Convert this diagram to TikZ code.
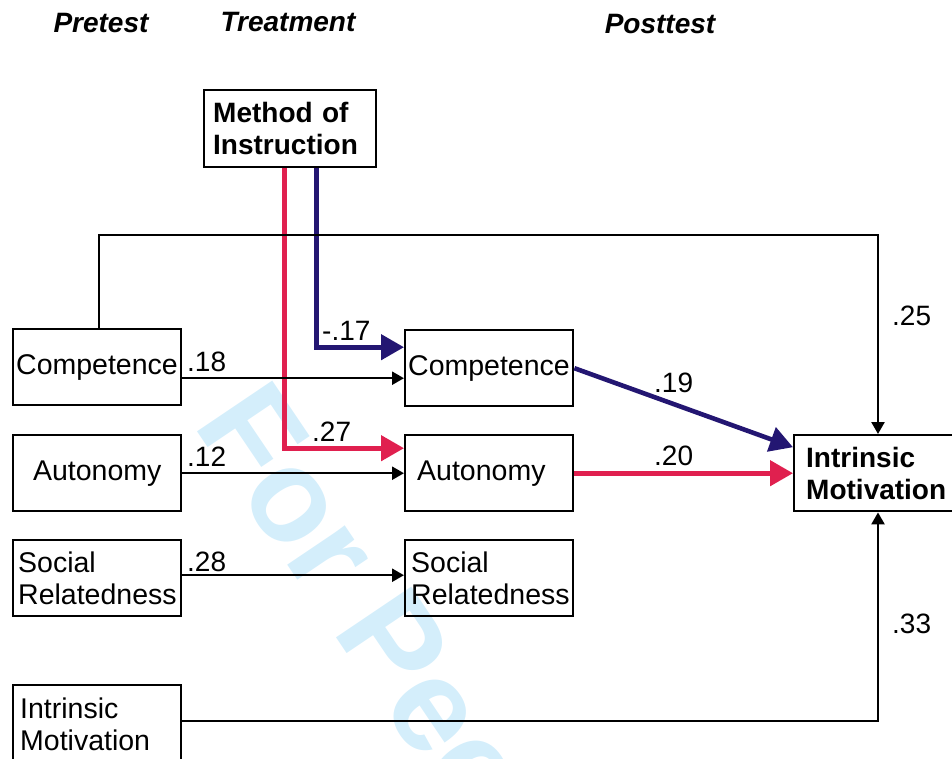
\documentclass[tikz,border=0pt]{standalone}
\usepackage{fontspec}
\setmainfont{Liberation Sans}
\usetikzlibrary{arrows.meta}
\definecolor{redc}{HTML}{E0204F}
\definecolor{bluec}{HTML}{231672}
\definecolor{wm}{HTML}{D4EEFB}
\tikzset{
 box/.style={draw=black, line width=2.4pt, inner xsep=3pt, inner ysep=0pt, text width=162pt,
   minimum height=76pt, anchor=north west, align=left, font=\fontsize{28.5}{32}\selectfont},
 hdr/.style={font=\fontsize{28}{32}\selectfont\bfseries\itshape, anchor=base, inner sep=0pt},
 lbl/.style={font=\fontsize{28}{30}\selectfont, anchor=base west, inner sep=0pt},
 blk/.style={draw=black, line width=2.4pt, -{Triangle[length=12pt,width=13pt]}},
 redarr/.style={draw=redc, line width=4.6pt, -{Triangle[length=23pt,width=25pt]}},
 bluearr/.style={draw=bluec, line width=4.6pt, -{Triangle[length=23pt,width=25pt]}},
 wmark/.style={font=\fontsize{132}{132}\selectfont\bfseries, text=wm, rotate=-56, anchor=base west, inner sep=0pt},
}
\begin{document}
\begin{tikzpicture}[x=1pt,y=-1pt]
\useasboundingbox (0,0) rectangle (952,758);
\clip (0,0) rectangle (952,758);
\node[wmark] (wmk) at (192,424) {For Peer Review};

% headers
\node[hdr] (h1) at (101,32) {Pretest};
\node[hdr] (h2) at (288,31) {Treatment};
\node[hdr] (h3) at (660,33) {Posttest};

% treatment
\node[box, font=\fontsize{28}{32}\selectfont\bfseries, inner xsep=9pt, text width=154pt, minimum height=77pt] (moi) at (203,89) {Method of\\Instruction};

% pretest
\node[box] (pc) at (12,328) {Competence};
\node[box, align=center] (pa) at (12,434) {Autonomy};
\node[box] (ps) at (12,539) {\hspace*{2pt}Social\\\hspace*{2pt}Relatedness};
\node[box, minimum height=0pt, inner ysep=12.5pt] (pim) at (12,684) {\hspace*{4pt}Intrinsic\\\hspace*{4pt}Motivation\rule[-25pt]{0pt}{25pt}};

% posttest
\node[box] (qc) at (404,329) {Competence};
\node[box] (qa) at (404,434) {\hspace*{9pt}Autonomy};
\node[box] (qs) at (404,539) {\hspace*{3pt}Social\\\hspace*{3pt}Relatedness};
\node[box, font=\fontsize{28}{32}\selectfont\bfseries, inner xsep=12pt, text width=142pt] (im) at (793,434) {Intrinsic\\Motivation};

% coloured paths
\draw[bluearr] ([xshift=26pt]moi.south) |- ([yshift=21pt]qc.west);
\draw[redarr] ([xshift=-6pt]moi.south) |- ([yshift=25pt]qa.west);
\draw[bluearr] (qc.east) -- ([yshift=26pt]im.west);
\draw[redarr] (qa.east) -- (im.west);

% black paths
\coordinate (tr) at (878,235);
\coordinate (br) at (878,721);
\draw[blk] ([xshift=2pt]pc.north) |- (tr) -- (tr |- im.north);
\draw[blk] (pim.east |- br) -- (br) -- (br |- im.south);
\draw[blk] ([yshift=-11pt]pc.east) -- ([yshift=-11pt]pc.east -| qc.west);
\draw[blk] (pa.east) -- (pa.east -| qa.west);
\draw[blk] ([yshift=3pt]ps.east) -- ([yshift=3pt]ps.east -| qs.west);

% labels
\node[lbl] (l18) at (187,371) {.18};
\node[lbl] (l12) at (187,466) {.12};
\node[lbl] (l28) at (187,571) {.28};
\node[lbl] (l17) at (322,340) {-.17};
\node[lbl] (l27) at (312,441) {.27};
\node[lbl] (l19) at (654,392) {.19};
\node[lbl] (l20) at (654,465) {.20};
\node[lbl] (l25) at (892,325) {.25};
\node[lbl] (l33) at (892,633) {.33};
\end{tikzpicture}
\end{document}
